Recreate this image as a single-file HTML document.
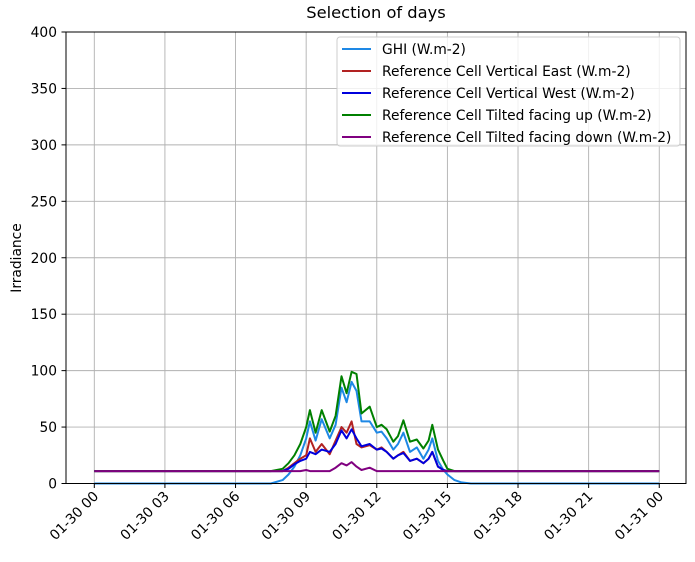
<!DOCTYPE html>
<html><head><meta charset="utf-8"><style>
body{margin:0;background:#fff;}
svg{font-family:"DejaVu Sans","Liberation Sans",sans-serif;}
</style></head><body>
<svg id="chart" width="695" height="557" xmlns="http://www.w3.org/2000/svg">
<text x="376" y="18" text-anchor="middle" font-size="16.3">Selection of days</text>
<text transform="translate(21,258) rotate(-90)" text-anchor="middle" font-size="13.8">Irradiance</text>
<g id="grid"></g>
<g id="series"></g>
<rect x="66" y="32" width="620" height="451.5" fill="none" stroke="#000" stroke-width="1"/>
<g id="axes"></g>
<g id="legend"></g>
</svg>
<script>
const hours = [0,7.5,8,8.25,8.5,8.75,9,9.16,9.4,9.66,10,10.25,10.5,10.72,10.93,11.14,11.35,11.7,12,12.2,12.42,12.7,12.9,13.13,13.41,13.7,13.98,14.2,14.36,14.6,14.83,15,15.3,15.6,16,24];
const ghi =    [0,0,3,8,15,25,40,55,38,57,40,52,85,72,90,82,55,55,45,46,40,30,35,45,28,32,22,30,40,20,12,8,3,1,0,0];
const east =   [11,11,11,14,18,22,25,40,28,35,26,38,50,45,55,35,32,34,30,32,28,22,25,28,20,22,18,22,28,15,12,11,11,11,11,11];
const west =   [11,11,11,13,17,20,22,28,26,30,28,35,47,40,48,40,33,35,30,31,28,22,25,27,20,22,18,22,28,15,12,11,11,11,11,11];
const tiltUp = [11,11,13,18,25,35,50,65,45,65,46,60,95,80,99,97,62,68,50,52,48,37,42,56,37,39,31,38,52,30,20,13,11,11,11,11];
const tiltDown=[11,11,11,11,11,11,12,11,11,11,11,14,18,16,19,15,12,14,11,11,11,11,11,11,11,11,11,11,11,11,11,11,11,11,11,11];
const xTickHours = [0,3,6,9,12,15,18,21,24];
const xTickLabels = ["01-30 00","01-30 03","01-30 06","01-30 09","01-30 12","01-30 15","01-30 18","01-30 21","01-31 00"];
const yTicks = [0,50,100,150,200,250,300,350,400];
const seriesNames = ["GHI (W.m-2)","Reference Cell Vertical East (W.m-2)","Reference Cell Vertical West (W.m-2)","Reference Cell Tilted facing up (W.m-2)","Reference Cell Tilted facing down (W.m-2)"];

const NS="http://www.w3.org/2000/svg";
const X = h => 94.3 + h*23.54;
const Y = v => 483.5 - v*(451.5/400);
function mk(tag, attrs, parent){const e=document.createElementNS(NS,tag);for(const k in attrs)e.setAttribute(k,attrs[k]);parent.appendChild(e);return e;}
const grid=document.getElementById('grid'), axes=document.getElementById('axes'), ser=document.getElementById('series'), leg=document.getElementById('legend');

xTickHours.forEach((h,i)=>{
  const x=X(h);
  const gl=mk('line',{x1:x,x2:x,y1:32,y2:483.5,stroke:'#b0b0b0','stroke-width':0.9},grid);
  
  
  const t=mk('line',{x1:x,x2:x,y1:483.5,y2:488,stroke:'#000'},axes);
  
  
  const lb=mk('text',{transform:`translate(${x+5},${497}) rotate(-45)`,'text-anchor':'end','font-size':13.8},axes);
  lb.textContent=xTickLabels[i];
  
  
});
yTicks.forEach(v=>{
  const y=Y(v);
  const gl=mk('line',{x1:66,x2:686,y1:y,y2:y,stroke:'#b0b0b0','stroke-width':0.9},grid);
  
  
  const t=mk('line',{x1:61.5,x2:66,y1:y,y2:y,stroke:'#000'},axes);
  
  
  const lb=mk('text',{x:57,y:y+5,'text-anchor':'end','font-size':13.8},axes);
  lb.textContent=v;
  
  
});

const data=[ghi,east,west,tiltUp,tiltDown];
const colors=['#1e88e5','#b22222','#0000dd','#008000','#800080'];
const names=['series-ghi','series-vertical-east','series-vertical-west','series-tilted-up','series-tilted-down'];
[0,1,2,3,4].forEach(i=>{
  const d=data[i].map((v,j)=>(j?'L':'M')+X(hours[j]).toFixed(1)+','+Y(v).toFixed(1)).join('');
  const p=mk('path',{d:d,fill:'none',stroke:colors[i],'stroke-width':2,'stroke-linejoin':'round'},ser);
  
  
});

const box=mk('rect',{x:337,y:37,width:343,height:109,rx:3,fill:'#fff','fill-opacity':0.8,stroke:'#ccc'},leg);


seriesNames.forEach((n,i)=>{
  const y=49+i*22;
  const l=mk('line',{x1:342,x2:371,y1:y,y2:y,stroke:colors[i],'stroke-width':2},leg);
  
  
  const t=mk('text',{x:382,y:y+5,'font-size':13.8},leg);
  t.textContent=n;
  
  
});
</script>
</body></html>
